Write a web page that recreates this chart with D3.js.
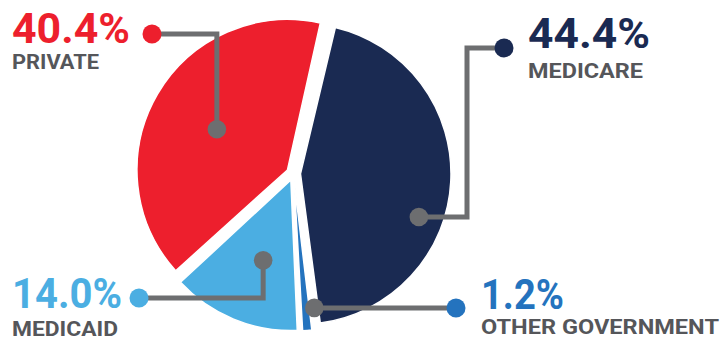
<!DOCTYPE html>
<html><head><meta charset="utf-8">
<script src="https://cdn.jsdelivr.net/npm/d3@7"></script>
<style>html,body{margin:0;padding:0;background:#fff;} svg{display:block}</style>
</head><body><svg id="chart" width="723" height="337"></svg>
<script>
// ---- data ----
const categories = ["MEDICARE", "OTHER GOVERNMENT", "MEDICAID", "PRIVATE"];
const values = [44.4, 1.2, 14.0, 40.4];
const valueLabels = ["44.4%", "1.2%", "14.0%", "40.4%"];
const colors = ["#1A2A52", "#2473BE", "#4BAEE2", "#ED1F2D"];

// ---- layout ----
const cx = 293.5, cy = 173.5, R = 150.5, explode = 7, startDeg = 13;
const lineColor = "#6D6E70", catColor = "#55565A";
const labelLayout = [
  {dotDeg: 110, dotR: 126, path: "hvh", midX: 467, ex: 504, ey: 48, tx: 528, numY: 48, numW: 122, catY: 78, catW: 115},
  {dotDeg: 171, dotR: 129, path: "vh", ex: 456, ey: 308, tx: 481, numY: 309, numW: 83, catY: 334, catW: 238},
  {dotDeg: 199, dotR: 85, path: "vh", ex: 139, ey: 298, tx: 12, numY: 308, numW: 110, catY: 336, catW: 106},
  {dotDeg: 300, dotR: 81.5, path: "vh", ex: 152, ey: 34, tx: 12, numY: 43, numW: 118, catY: 69, catW: 87}
];

const svg = d3.select("#chart");
const rad = d => d * Math.PI / 180;
const s0 = rad(startDeg);
const pie = d3.pie().sort(null).startAngle(s0).endAngle(s0 + 2 * Math.PI);
const arcs = pie(values);
const arc = d3.arc().innerRadius(0).outerRadius(R).padAngle(0.014);

const centers = arcs.map(a => {
  const m = (a.startAngle + a.endAngle) / 2;
  return [cx + explode * Math.sin(m), cy - explode * Math.cos(m)];
});

svg.append("g").selectAll("path").data(arcs).join("path")
  .attr("transform", (d, i) => `translate(${centers[i][0]},${centers[i][1]})`)
  .attr("d", arc)
  .attr("fill", (d, i) => colors[i])
  .attr("stroke", "#fff").attr("stroke-width", 1.5);

const g = svg.append("g");
labelLayout.forEach((L, i) => {
  const c = centers[i];
  const px = c[0] + L.dotR * Math.sin(rad(L.dotDeg));
  const py = c[1] - L.dotR * Math.cos(rad(L.dotDeg));
  let pts;
  if (L.path === "hvh") pts = [[px, py], [L.midX, py], [L.midX, L.ey], [L.ex, L.ey]];
  else pts = [[px, py], [px, L.ey], [L.ex, L.ey]];
  g.append("path").attr("d", d3.line()(pts))
    .attr("fill", "none").attr("stroke", lineColor).attr("stroke-width", 5)
    .attr("stroke-linejoin", "miter").attr("stroke-linecap", "butt");
  g.append("circle").attr("cx", px).attr("cy", py).attr("r", 9.3).attr("fill", lineColor);
  g.append("circle").attr("cx", L.ex).attr("cy", L.ey).attr("r", 9.5).attr("fill", colors[i]);
  g.append("text").attr("x", L.tx).attr("y", L.numY)
    .attr("font-family", "Roboto, 'Liberation Sans', sans-serif").attr("font-weight", 700)
    .attr("font-size", 42).attr("fill", colors[i])
    .attr("textLength", L.numW).attr("lengthAdjust", "spacingAndGlyphs")
    .text(valueLabels[i]);
  g.append("text").attr("x", L.tx).attr("y", L.catY)
    .attr("font-family", "Roboto, 'Liberation Sans', sans-serif").attr("font-weight", 700)
    .attr("font-size", 21).attr("fill", catColor)
    .attr("textLength", L.catW).attr("lengthAdjust", "spacingAndGlyphs")
    .text(categories[i]);
});
</script></body></html>
